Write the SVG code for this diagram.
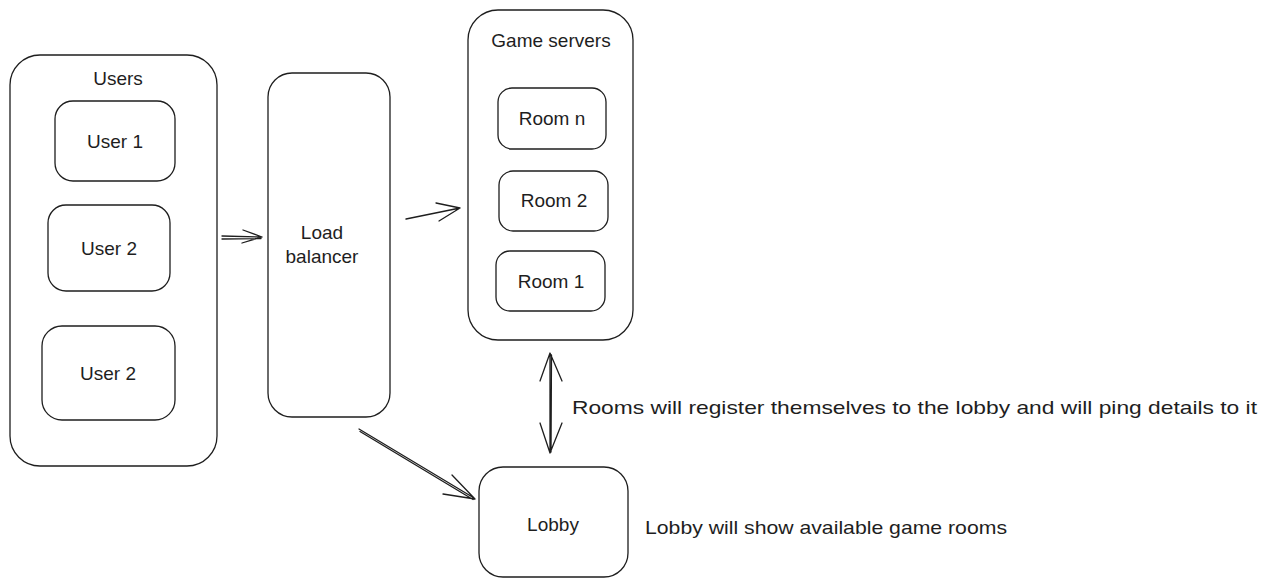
<svg xmlns="http://www.w3.org/2000/svg" width="1269" height="585" viewBox="0 0 1269 585">
<style>
.box{fill:none;stroke:#1e1e1e;stroke-width:1.3;stroke-linejoin:round}
.con{fill:none;stroke:#1e1e1e;stroke-width:1.3;stroke-linecap:round;stroke-linejoin:round}
.lbl{font-family:"Liberation Sans",Arial,sans-serif;font-size:19px;fill:#1e1e1e;text-anchor:middle}
.note{font-family:"Liberation Sans",Arial,sans-serif;font-size:19px;fill:#1e1e1e}
</style>
<rect width="1269" height="585" fill="#ffffff"/>
<g id="users">
<rect class="box" x="10" y="55" width="207" height="411" rx="30"/>
<text class="lbl" x="118" y="85">Users</text>
</g>
<g id="user1">
<rect class="box" x="55" y="101" width="120" height="80" rx="18"/>
<text class="lbl" x="115" y="148">User 1</text>
</g>
<g id="user2a">
<rect class="box" x="48" y="205" width="122" height="86" rx="18"/>
<text class="lbl" x="109" y="255">User 2</text>
</g>
<g id="user2b">
<rect class="box" x="42" y="326" width="133" height="94" rx="20"/>
<text class="lbl" x="108" y="380">User 2</text>
</g>
<g id="load-balancer">
<rect class="box" x="268" y="73" width="122" height="344" rx="24"/>
<text class="lbl" x="322" y="239">Load</text>
<text class="lbl" x="322" y="263">balancer</text>
</g>
<g id="game-servers">
<rect class="box" x="468" y="10" width="165" height="330" rx="30"/>
<text class="lbl" x="551" y="47">Game servers</text>
</g>
<g id="room-n">
<rect class="box" x="498" y="88" width="108" height="61" rx="14"/>
<text class="lbl" x="552" y="125">Room n</text>
</g>
<g id="room-2">
<rect class="box" x="499" y="171" width="109" height="60" rx="14"/>
<text class="lbl" x="554" y="207">Room 2</text>
</g>
<g id="room-1">
<rect class="box" x="496" y="251" width="109" height="60" rx="14"/>
<text class="lbl" x="551" y="288">Room 1</text>
</g>
<g id="lobby">
<rect class="box" x="479" y="467" width="149" height="110" rx="24"/>
<text class="lbl" x="553" y="531">Lobby</text>
</g>
<g id="connectors">
<path class="con" d="M222 236 L262 237 M222 239 L261 238.5 M243 230 L262 237 L242 243"/>
<path class="con" d="M406 219 L460 208 M436 203 L460 208 L439 221"/>
<path class="con" d="M550 354 L550 453 M551.5 355 L551 452 M540 381 L550 353 L562 381 M540 423 L550 453 L562 423"/>
<path class="con" d="M359 429 L474 498 M360 431.5 L473 499.5 M452 475 L475 499 L443 494"/>
</g>
<g id="notes">
<text class="note" x="572" y="414" textLength="685" lengthAdjust="spacingAndGlyphs">Rooms will register themselves to the lobby and will ping details to it</text>
<text class="note" x="645" y="534" textLength="362" lengthAdjust="spacingAndGlyphs">Lobby will show available game rooms</text>
</g>
</svg>
